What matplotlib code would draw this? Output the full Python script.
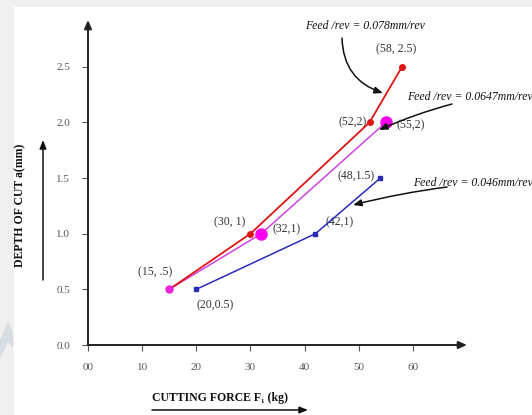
import matplotlib
matplotlib.use("Agg")
from matplotlib import pyplot as plt
from matplotlib.patches import Rectangle, Polygon, FancyArrowPatch

# data
red_x = [15, 30, 52, 58]
red_y = [0.5, 1.0, 2.0, 2.5]
mag_x = [15, 32, 55]
mag_y = [0.5, 1.0, 2.0]
blue_x = [20, 42, 54]
blue_y = [0.5, 1.0, 1.5]

point_labels = ["(58, 2.5)", "(52,2)", "(55,2)", "(48,1.5)", "(30, 1)",
                "(32,1)", "(42,1)", "(15, .5)", "(20,0.5)"]
label_xy = [(58, 2.5), (52, 2), (55, 2), (54, 1.5), (30, 1),
            (32, 1), (42, 1), (15, 0.5), (20, 0.5)]
feed_labels = ["Feed /rev = 0.078mm/rev", "Feed /rev = 0.0647mm/rev",
               "Feed /rev = 0.046mm/rev"]

xticks = [0, 10, 20, 30, 40, 50, 60]
xtick_labels = ["00", "10", "20", "30", "40", "50", "60"]
yticks = [0.0, 0.5, 1.0, 1.5, 2.0, 2.5]
ytick_labels = ["0.0", "0.5", "1.0", "1.5", "2.0", "2.5"]

W, H = 532, 415
serif = ["Liberation Serif", "DejaVu Serif"]


def fx(px):
    return px / W


def fy(py):
    return 1 - py / H


fig = plt.figure(figsize=(W / 100, H / 100), dpi=100)
fig.patch.set_facecolor("#efefef")
fig.patches.append(Rectangle((fx(14), 0), 1, fy(7), transform=fig.transFigure,
                             facecolor="white", edgecolor="none", zorder=0))
fig.patches.append(Polygon([(fx(0), fy(340)), (fx(0), fy(358)), (fx(8), fy(342)),
                            (fx(13), fy(348)), (fx(13), fy(332)), (fx(8), fy(322))],
                           closed=True, transform=fig.transFigure,
                           facecolor="#d6dde4", edgecolor="none", zorder=1))

ax = fig.add_axes([fx(88), fy(345), fx(467) - fx(88), fy(20) - fy(345)])
ax.set_zorder(3)
ax.set_facecolor("none")
ax.set_xlim(0, 70)
ax.set_ylim(0, 2.92)
for s in ax.spines.values():
    s.set_visible(False)

# axes drawn as arrows
arr = dict(arrowstyle="-|>,head_length=0.5,head_width=0.22", color="#222222", lw=1.4,
           shrinkA=0, shrinkB=0)
ax.annotate("", xy=(0, 1), xytext=(0, 0), xycoords="axes fraction", arrowprops=arr)
ax.annotate("", xy=(1, 0), xytext=(0, 0), xycoords="axes fraction", arrowprops=arr)

ax.set_xticks(xticks)
ax.set_xticklabels(xtick_labels)
ax.set_yticks(yticks)
ax.set_yticklabels(ytick_labels)
ax.tick_params(direction="out", length=4, width=0.8, color="#555555",
               labelsize=8, labelcolor="#555555", pad=9)
for t in ax.get_xticklabels() + ax.get_yticklabels():
    t.set_family(serif)

ax.plot(mag_x, mag_y, color="#cc44dd", lw=1.1, zorder=3)
ax.plot(red_x, red_y, color="#dd1515", lw=1.3, marker="o", ms=4, zorder=4)
ax.plot(mag_x[0], mag_y[0], "o", color="#ee22dd", ms=5, zorder=5)
ax.plot(mag_x[1:], mag_y[1:], "o", color="#ff00ee", ms=8, zorder=5)
ax.plot(blue_x, blue_y, color="#2a2ab8", lw=1.1, marker="s", ms=3.5, zorder=4)

offsets = [(-4, 8), (-2, 0), (8, -2), (-4, 1), (-4, 4), (8, 3), (7, 4), (-10, 8), (0, -7)]
aligns = [("center", "bottom"), ("right", "center"), ("left", "center"),
          ("right", "center"), ("right", "bottom"), ("left", "center"),
          ("left", "bottom"), ("center", "bottom"), ("left", "top")]
for lab, xy, off, al in zip(point_labels, label_xy, offsets, aligns):
    ax.annotate(lab, xy=xy, xytext=off, textcoords="offset points",
                ha=al[0], va=al[1], fontsize=8.5, color="#333333", family=serif)

# feed annotations
fig.text(fx(305), fy(26), feed_labels[0], fontsize=8.5, family=serif,
         style="italic", va="center", ha="left", color="#111111", zorder=4)
fig.text(fx(407), fy(97), feed_labels[1], fontsize=8.5, family=serif,
         style="italic", va="center", ha="left", color="#111111", zorder=4)
fig.text(fx(413), fy(183), feed_labels[2], fontsize=8.5, family=serif,
         style="italic", va="center", ha="left", color="#111111", zorder=4)

farr = dict(arrowstyle="-|>,head_length=0.5,head_width=0.2", color="#111111", lw=1.1,
            shrinkA=0, shrinkB=0)
fig.add_artist(FancyArrowPatch(
    (fx(342), fy(38)), (fx(383), fy(93)), transform=fig.transFigure,
    connectionstyle="arc3,rad=0.35", mutation_scale=10, zorder=6, **farr))
fig.add_artist(FancyArrowPatch(
    (fx(452), fy(104)), (fx(379), fy(130)), transform=fig.transFigure,
    connectionstyle="arc3,rad=0.04", mutation_scale=10, zorder=6, **farr))
fig.add_artist(FancyArrowPatch(
    (fx(447), fy(187)), (fx(353), fy(205)), transform=fig.transFigure,
    connectionstyle="arc3,rad=0.03", mutation_scale=10, zorder=6, **farr))

# axis titles with their arrows
fig.text(fx(20), fy(205), "DEPTH OF CUT a(mm)", rotation=90, fontsize=8.5,
         family=serif, weight="bold", ha="center", va="center", color="#111111")
fig.add_artist(FancyArrowPatch(
    (fx(43), fy(280)), (fx(43), fy(140)), transform=fig.transFigure,
    mutation_scale=10, **farr))
fig.text(fx(152), fy(398), "CUTTING FORCE F\u2081 (kg)", fontsize=8.5,
         family=serif, weight="bold", ha="left", va="center", color="#111111")
fig.add_artist(FancyArrowPatch(
    (fx(152), fy(410)), (fx(308), fy(410)), transform=fig.transFigure,
    mutation_scale=10, **farr))

fig.savefig("out.png", dpi=100, facecolor=fig.get_facecolor())
